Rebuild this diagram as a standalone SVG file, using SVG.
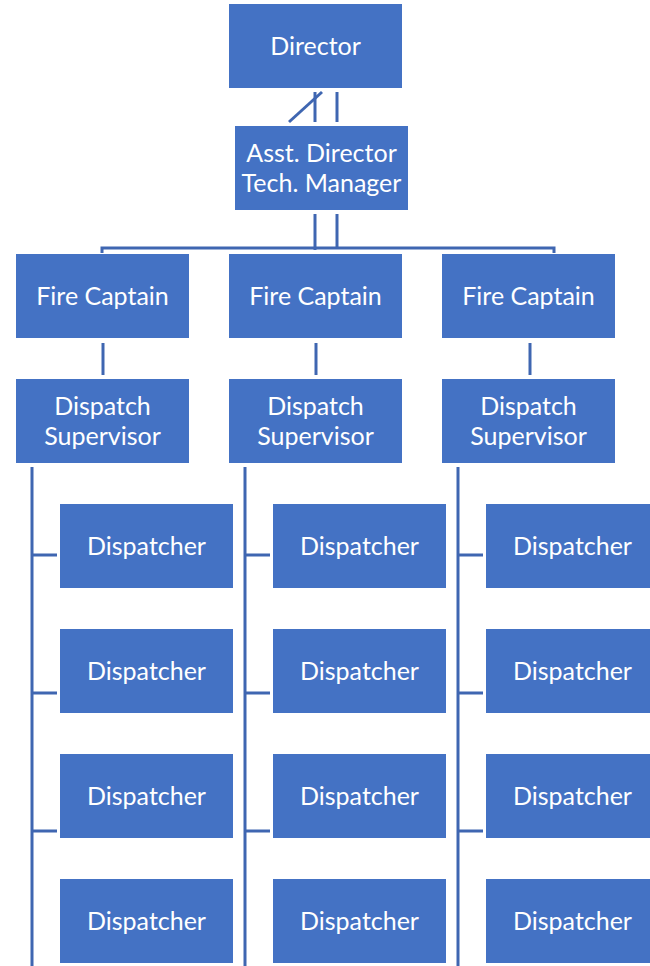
<svg xmlns="http://www.w3.org/2000/svg" width="650" height="966" viewBox="0 0 650 966">
<style>
.box{fill:#4472C4;}
.t{fill:#FFFFFF;font-family:Lato,"Open Sans","Liberation Sans",sans-serif;font-size:25px;text-anchor:middle;dominant-baseline:central;}
.c{stroke:#3F66B1;stroke-width:3;fill:none;}
</style>
<rect width="650" height="966" fill="#FFFFFF"/>
<g id="connectors">
<line class="c" x1="315" y1="92" x2="315" y2="122"/>
<line class="c" x1="337" y1="92" x2="337" y2="122"/>
<line class="c" x1="289" y1="122" x2="322" y2="92"/>
<line class="c" x1="315" y1="214" x2="315" y2="250"/>
<line class="c" x1="337" y1="214" x2="337" y2="248"/>
<path class="c" d="M102,253 V248 H554 V253"/>
<line class="c" x1="103" y1="343" x2="103" y2="375"/>
<line class="c" x1="316" y1="343" x2="316" y2="375"/>
<line class="c" x1="530" y1="343" x2="530" y2="375"/>
<line class="c" x1="32" y1="467" x2="32" y2="966"/>
<line class="c" x1="245" y1="467" x2="245" y2="966"/>
<line class="c" x1="458" y1="467" x2="458" y2="966"/>
<path class="c" d="M32,555 H57 M32,693 H57 M32,831 H57"/>
<path class="c" d="M245,555 H270 M245,693 H270 M245,831 H270"/>
<path class="c" d="M458,555 H483 M458,693 H483 M458,831 H483"/>
</g>
<g id="director"><rect class="box" x="229" y="4" width="173" height="84"/><text class="t" x="315.5" y="45">Director</text></g>
<g id="asst-director"><rect class="box" x="235" y="126" width="173" height="84"/><text class="t" x="321.5" y="152">Asst. Director</text><text class="t" x="321.5" y="182">Tech. Manager</text></g>
<g id="fire-captain-1"><rect class="box" x="16" y="254" width="173" height="84"/><text class="t" x="102.5" y="295">Fire Captain</text></g>
<g id="fire-captain-2"><rect class="box" x="229" y="254" width="173" height="84"/><text class="t" x="315.5" y="295">Fire Captain</text></g>
<g id="fire-captain-3"><rect class="box" x="442" y="254" width="173" height="84"/><text class="t" x="528.5" y="295">Fire Captain</text></g>
<g id="supervisor-1"><rect class="box" x="16" y="379" width="173" height="84"/><text class="t" x="102.5" y="405">Dispatch</text><text class="t" x="102.5" y="435">Supervisor</text></g>
<g id="supervisor-2"><rect class="box" x="229" y="379" width="173" height="84"/><text class="t" x="315.5" y="405">Dispatch</text><text class="t" x="315.5" y="435">Supervisor</text></g>
<g id="supervisor-3"><rect class="box" x="442" y="379" width="173" height="84"/><text class="t" x="528.5" y="405">Dispatch</text><text class="t" x="528.5" y="435">Supervisor</text></g>
<g id="dispatcher-1-1"><rect class="box" x="60" y="504" width="173" height="84"/><text class="t" x="146.5" y="545">Dispatcher</text></g>
<g id="dispatcher-1-2"><rect class="box" x="60" y="629" width="173" height="84"/><text class="t" x="146.5" y="670">Dispatcher</text></g>
<g id="dispatcher-1-3"><rect class="box" x="60" y="754" width="173" height="84"/><text class="t" x="146.5" y="795">Dispatcher</text></g>
<g id="dispatcher-1-4"><rect class="box" x="60" y="879" width="173" height="84"/><text class="t" x="146.5" y="920">Dispatcher</text></g>
<g id="dispatcher-2-1"><rect class="box" x="273" y="504" width="173" height="84"/><text class="t" x="359.5" y="545">Dispatcher</text></g>
<g id="dispatcher-2-2"><rect class="box" x="273" y="629" width="173" height="84"/><text class="t" x="359.5" y="670">Dispatcher</text></g>
<g id="dispatcher-2-3"><rect class="box" x="273" y="754" width="173" height="84"/><text class="t" x="359.5" y="795">Dispatcher</text></g>
<g id="dispatcher-2-4"><rect class="box" x="273" y="879" width="173" height="84"/><text class="t" x="359.5" y="920">Dispatcher</text></g>
<g id="dispatcher-3-1"><rect class="box" x="486" y="504" width="173" height="84"/><text class="t" x="572.5" y="545">Dispatcher</text></g>
<g id="dispatcher-3-2"><rect class="box" x="486" y="629" width="173" height="84"/><text class="t" x="572.5" y="670">Dispatcher</text></g>
<g id="dispatcher-3-3"><rect class="box" x="486" y="754" width="173" height="84"/><text class="t" x="572.5" y="795">Dispatcher</text></g>
<g id="dispatcher-3-4"><rect class="box" x="486" y="879" width="173" height="84"/><text class="t" x="572.5" y="920">Dispatcher</text></g>
</svg>
